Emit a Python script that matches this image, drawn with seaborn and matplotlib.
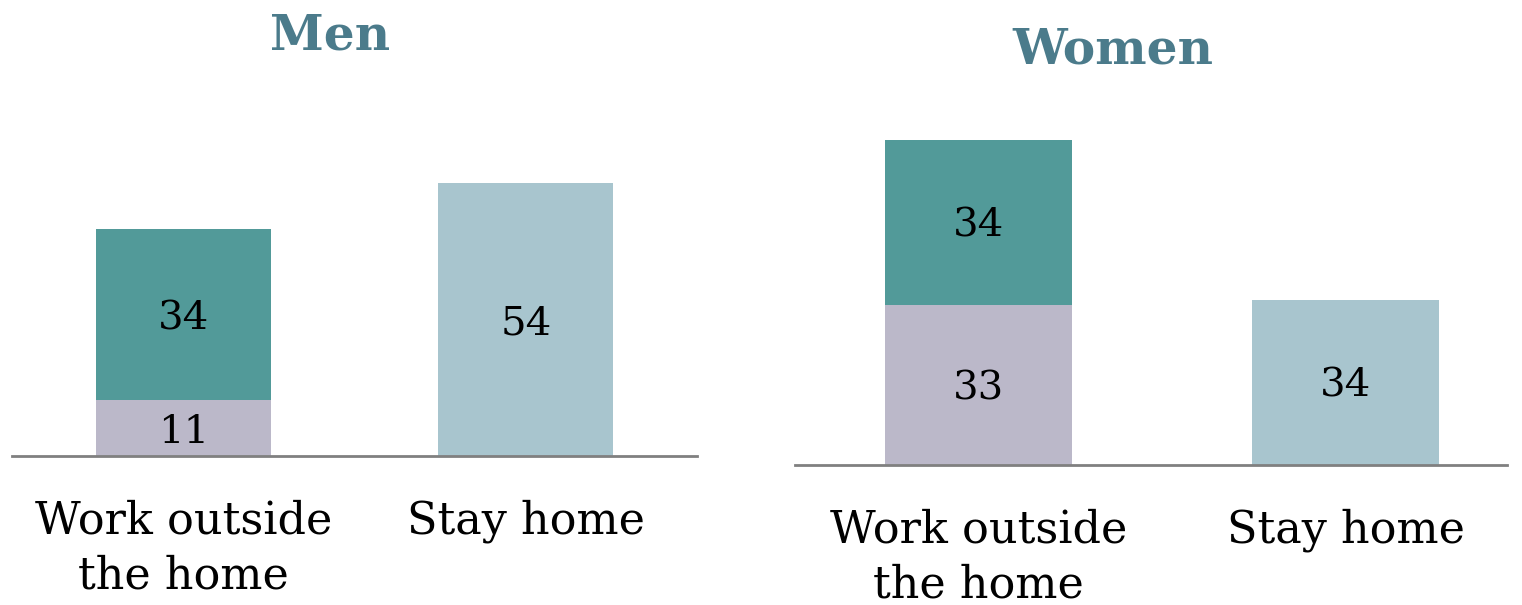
import matplotlib
matplotlib.use('Agg')
import matplotlib.pyplot as plt
import pandas as pd
import seaborn as sns

# data
categories = ["Work outside\nthe home", "Stay home"]
men_lower = [11, 0]      # purple segment (work outside only)
men_upper = [34, 54]     # teal on work, light blue on stay home
women_lower = [33, 0]
women_upper = [34, 34]
panel_titles = ["Men", "Women"]

TEAL = "#529a99"
PURPLE = "#bbb8c9"
LIGHT = "#a8c5ce"
TITLE_C = "#4b7b8b"

sns.set_theme(style="white")
plt.rcParams['font.family'] = ['DejaVu Serif']

fig = plt.figure(figsize=(15.22, 6.05), dpi=100)
ax_men = fig.add_axes([12 / 1522, 149 / 605, 685 / 1522, 303 / 605])
ax_women = fig.add_axes([795 / 1522, 140 / 605, 712 / 1522, 340 / 605])


def draw_panel(ax, lower, upper, ymax, xmax):
    df = pd.DataFrame({
        "category": categories,
        "lower": lower,
        "upper": upper,
        "total": [a + b for a, b in zip(lower, upper)],
    })
    pal = {categories[0]: TEAL, categories[1]: LIGHT}
    # full stack height first, then lower segment over it
    sns.barplot(data=df, x="category", y="total", hue="category", palette=pal,
                order=categories, width=0.51, saturation=1, legend=False,
                linewidth=0, ax=ax)
    sns.barplot(data=df[df["lower"] > 0], x="category", y="lower", order=categories,
                color=PURPLE, width=0.51, saturation=1, linewidth=0, ax=ax)
    for i, row in df.iterrows():
        if row["lower"] > 0:
            ax.text(i, row["lower"] / 2, str(row["lower"]), ha="center",
                    va="center_baseline", fontsize=29, color="black")
        ax.text(i, row["lower"] + row["upper"] / 2, str(row["upper"]), ha="center",
                va="center_baseline", fontsize=29, color="black")
    ax.set_ylim(0, ymax)
    ax.set_xlim(-0.5, xmax)
    ax.set_xlabel("")
    ax.set_ylabel("")
    ax.set_yticks([])
    ax.tick_params(axis="x", length=0, pad=31, labelsize=32, labelcolor="black")
    for lbl in ax.get_xticklabels():
        lbl.set_linespacing(1.36)
    for side in ["top", "left", "right"]:
        ax.spines[side].set_visible(False)
    ax.spines["bottom"].set_color("#808080")
    ax.spines["bottom"].set_linewidth(2)


draw_panel(ax_men, men_lower, men_upper, 60, 1.5)
draw_panel(ax_women, women_lower, women_upper, 70, 1.44)

fig.text(330 / 1522, 1 - 36 / 605, panel_titles[0], ha="center", va="center",
         fontsize=35, fontweight="bold", color=TITLE_C)
fig.text(1113 / 1522, 1 - 50 / 605, panel_titles[1], ha="center", va="center",
         fontsize=35, fontweight="bold", color=TITLE_C)

fig.savefig("out.png", dpi=100)
